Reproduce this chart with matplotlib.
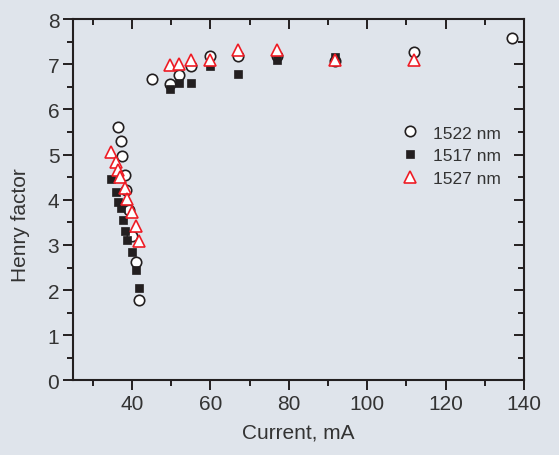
import matplotlib
matplotlib.use("Agg")
import matplotlib.pyplot as plt
from matplotlib.ticker import MultipleLocator

# Data
x_1522 = [36.4, 37.1, 37.5, 38.1, 38.5, 39.3, 39.9, 40.9, 41.7,
          45.0, 49.7, 52.0, 55.0, 59.8, 67.0, 77.0, 91.9, 111.9, 136.9]
y_1522 = [5.61, 5.29, 4.96, 4.55, 4.21, 3.77, 3.19, 2.62, 1.79,
          6.67, 6.57, 6.76, 6.97, 7.19, 7.19, 7.19, 7.06, 7.28, 7.57]

x_1517 = [34.7, 35.8, 36.3, 37.1, 37.8, 38.3, 38.8, 39.9, 40.9, 41.9,
          49.7, 52.0, 55.0, 59.8, 67.0, 77.0, 91.9]
y_1517 = [4.46, 4.17, 3.94, 3.81, 3.55, 3.30, 3.10, 2.84, 2.44, 2.04,
          6.45, 6.59, 6.59, 6.97, 6.79, 7.09, 7.16]

x_1527 = [34.7, 35.8, 36.3, 36.9, 38.1, 38.8, 39.9, 40.9, 41.9,
          49.7, 52.0, 55.0, 59.8, 67.0, 77.0, 91.9, 111.9]
y_1527 = [5.05, 4.83, 4.65, 4.51, 4.27, 4.02, 3.74, 3.43, 3.09,
          6.98, 7.00, 7.10, 7.10, 7.31, 7.31, 7.09, 7.10]

labels = ["1522 nm", "1517 nm", "1527 nm"]
x_ticks = [40, 60, 80, 100, 120, 140]
y_ticks = [0, 1, 2, 3, 4, 5, 6, 7, 8]

bg = "#dfe4eb"
dark = "#231f20"
txt = "#333333"

plt.rcParams['font.family'] = ['Liberation Sans', 'DejaVu Sans']

fig = plt.figure(figsize=(5.59, 4.56), dpi=100, facecolor=bg)
ax = fig.add_axes([0.131, 0.1634, 0.9374 - 0.131, 0.9561 - 0.1634])
ax.set_facecolor(bg)

ax.plot(x_1522, y_1522, linestyle='none', marker='o', ms=7.5, mfc='white',
        mec=dark, mew=1.2, label=labels[0], zorder=3)
ax.plot(x_1517, y_1517, linestyle='none', marker='s', ms=6, mfc=dark,
        mec=dark, mew=0.5, label=labels[1], zorder=3)
ax.plot(x_1527, y_1527, linestyle='none', marker='^', ms=8.5, mfc='white',
        mec='#ee1c25', mew=1.2, label=labels[2], zorder=4)

ax.set_xlim(25, 140)
ax.set_ylim(0, 8)
ax.set_xticks(x_ticks)
ax.set_yticks(y_ticks)
ax.xaxis.set_minor_locator(MultipleLocator(10))
ax.yaxis.set_minor_locator(MultipleLocator(0.5))

for s in ax.spines.values():
    s.set_color(dark)
    s.set_linewidth(1.5)

ax.tick_params(which='major', direction='out', length=7, width=1.4,
               color=dark, labelsize=15, labelcolor=txt, pad=3)
ax.tick_params(which='minor', direction='out', length=4, width=1.4, color=dark)

secx = ax.secondary_xaxis('top')
secx.set_xticks(x_ticks)
secx.xaxis.set_minor_locator(MultipleLocator(10))
secx.tick_params(which='major', direction='in', length=7, width=1.4, color=dark, labeltop=False)
secx.tick_params(which='minor', direction='in', length=4, width=1.4, color=dark)
secx.spines['top'].set_visible(False)

secy = ax.secondary_yaxis('right')
secy.set_yticks(y_ticks)
secy.yaxis.set_minor_locator(MultipleLocator(0.5))
secy.tick_params(which='major', direction='in', length=7, width=1.4, color=dark, labelright=False)
secy.tick_params(which='minor', direction='in', length=4, width=1.4, color=dark)
secy.spines['right'].set_visible(False)

ax.set_xlabel("Current, mA", fontsize=15, color=txt, va='center')
ax.xaxis.set_label_coords(0.5, -0.1425)
ax.set_ylabel("Henry factor", fontsize=15, color=txt, va='center')
ax.yaxis.set_label_coords(-0.118, 0.433)

leg = ax.legend(loc='upper left', bbox_to_anchor=(0.713, 0.725), frameon=False,
                fontsize=12.5, labelcolor=txt, handletextpad=0.8,
                labelspacing=0.45, borderaxespad=0, handlelength=1.0)

fig.savefig("out.png", dpi=100, facecolor=bg)
